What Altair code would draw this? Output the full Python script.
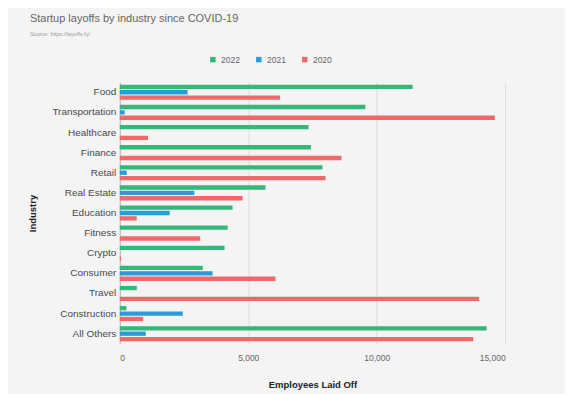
import altair as alt
import pandas as pd

industries = ["Food", "Transportation", "Healthcare", "Finance", "Retail", "Real Estate",
              "Education", "Fitness", "Crypto", "Consumer", "Travel", "Construction", "All Others"]
years = ["2022", "2021", "2020"]
v2022 = [11400, 9560, 7350, 7440, 7890, 5670, 4390, 4200, 4080, 3230, 660, 260, 14280]
v2021 = [2640, 190, 0, 0, 270, 2900, 1940, 0, 0, 3610, 0, 2450, 1010]
v2020 = [6240, 14600, 1100, 8630, 8010, 4780, 660, 3130, 50, 6060, 13990, 910, 13760]
colors = ["#35b779", "#2b9ad6", "#f0696a"]

rows = []
for yr, vals in zip(years, [v2022, v2021, v2020]):
    for ind, v in zip(industries, vals):
        rows.append({"Industry": ind, "Year": yr, "Employees": v})
df = pd.DataFrame(rows)

font = "Liberation Sans"

chart = alt.Chart(df).mark_bar().encode(
    x=alt.X("Employees:Q",
            scale=alt.Scale(domain=[0, 15000], nice=False),
            axis=alt.Axis(values=[0, 5000, 10000, 15000], format=",.0f", title="Employees Laid Off",
                          labelFontSize=8.5, labelColor="#666", labelFont=font, labelPadding=10,
                          titleFontSize=9.5, titleFont=font, titleFontWeight="bold", titleColor="#222",
                          titlePadding=17, ticks=False, domain=False,
                          grid=True, gridColor="#dddddd", gridWidth=1)),
    y=alt.Y("Industry:N", sort=industries,
            scale=alt.Scale(paddingInner=0.25, paddingOuter=0.125),
            axis=alt.Axis(title="Industry", labelFontSize=10, labelColor="#4a4a4a", labelFont=font,
                          labelPadding=4, ticks=False, domain=True, domainColor="#bbbbbb",
                          titleFontSize=9.5, titleFont=font, titleFontWeight="bold", titleColor="#222",
                          titlePadding=14, grid=False)),
    yOffset=alt.YOffset("Year:N", sort=years, scale=alt.Scale(paddingInner=0.2)),
    color=alt.Color("Year:N", sort=years,
                    scale=alt.Scale(domain=years, range=colors),
                    legend=alt.Legend(title=None, orient="none", direction="horizontal",
                                      legendX=89, legendY=-27, symbolType="square", symbolSize=30,
                                      labelFontSize=8.5, labelColor="#666", labelFont=font,
                                      columnPadding=14, symbolStrokeWidth=0)),
).properties(
    width=386,
    height=262,
    background="#f4f4f4",
    padding={"left": 112, "top": 74, "right": 60, "bottom": 50},
    autosize=alt.AutoSizeParams(type="none"),
    title=alt.TitleParams(text="Startup layoffs by industry since COVID-19",
                          subtitle="Source: https://layoffs.fyi",
                          anchor="start", frame="group", dx=-90, offset=18,
                          fontSize=11, font=font, fontWeight="normal", color="#666",
                          subtitleFontSize=5.5, subtitleFont=font, subtitleColor="#999",
                          subtitlePadding=8),
).configure_view(stroke=None, fill="#f4f4f4")

chart.save("out.html", embed_options={"renderer": "svg", "actions": False})
